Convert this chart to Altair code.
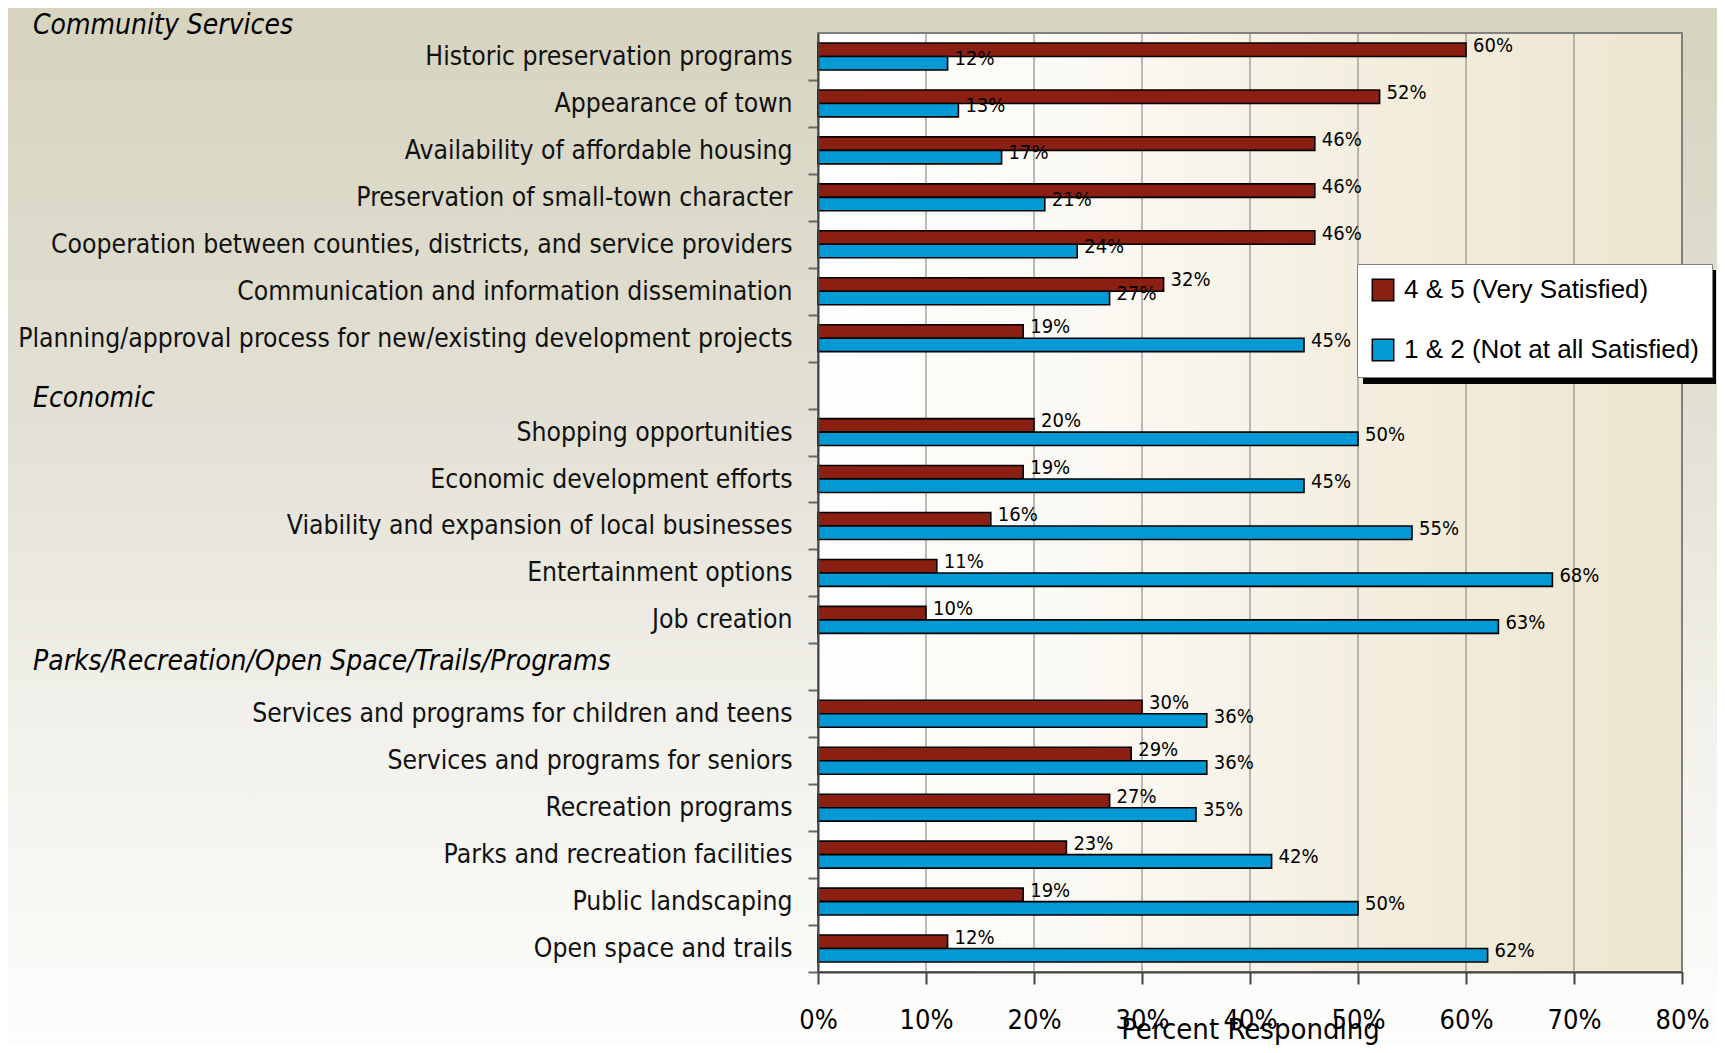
import altair as alt
import pandas as pd

# ---------------- data ----------------
series_names = ["4 & 5 (Very Satisfied)", "1 & 2 (Not at all Satisfied)"]
series_colors = ["#8a1f12", "#0399d4"]

headers = ["Community Services", "Economic", "Parks/Recreation/Open Space/Trails/Programs"]

community_cats = [
    "Historic preservation programs",
    "Appearance of town",
    "Availability of affordable housing",
    "Preservation of small-town character",
    "Cooperation between counties, districts, and service providers",
    "Communication and information dissemination",
    "Planning/approval process for new/existing development projects",
]
community_very = [60, 52, 46, 46, 46, 32, 19]
community_not = [12, 13, 17, 21, 24, 27, 45]

economic_cats = [
    "Shopping opportunities",
    "Economic development efforts",
    "Viability and expansion of local businesses",
    "Entertainment options",
    "Job creation",
]
economic_very = [20, 19, 16, 11, 10]
economic_not = [50, 45, 55, 68, 63]

parks_cats = [
    "Services and programs for children and teens",
    "Services and programs for seniors",
    "Recreation programs",
    "Parks and recreation facilities",
    "Public landscaping",
    "Open space and trails",
]
parks_very = [30, 29, 27, 23, 19, 12]
parks_not = [36, 36, 35, 42, 50, 62]

x_ticks = [0, 10, 20, 30, 40, 50, 60, 70, 80]

blank1 = " "
blank2 = "  "
order = community_cats + [blank1] + economic_cats + [blank2] + parks_cats

rows = []
for cats, very, nots in [(community_cats, community_very, community_not),
                         (economic_cats, economic_very, economic_not),
                         (parks_cats, parks_very, parks_not)]:
    for c, a, b in zip(cats, very, nots):
        rows.append({"cat": c, "series": series_names[0], "value": a, "label": f"{a}%"})
        rows.append({"cat": c, "series": series_names[1], "value": b, "label": f"{b}%"})
df = pd.DataFrame(rows)

NARROW = "DejaVu Sans Condensed"
REGULAR = "Liberation Sans"

W, H = 864, 939
PAD_L, PAD_T = 810, 25
PAD_R, PAD_B = 1709 - W - PAD_L, 1037 - H - PAD_T
STEP = H / len(order)

yscale = alt.Scale(domain=order, paddingInner=0.426, paddingOuter=0.213)
xscale = alt.Scale(domain=[x_ticks[0], x_ticks[-1]], nice=False, zero=True)

# ---------------- backgrounds ----------------
outer_grad = alt.LinearGradient(
    gradient="linear", x1=0, x2=0, y1=0, y2=1,
    stops=[alt.GradientStop(color="#d6d3bf", offset=0),
           alt.GradientStop(color="#e3e1d5", offset=0.4),
           alt.GradientStop(color="#f1f0ea", offset=0.68),
           alt.GradientStop(color="#fdfdfc", offset=1)])
outer_bg = alt.Chart(pd.DataFrame({"z": [0]})).mark_rect(fill=outer_grad).encode(
    x=alt.value(-PAD_L), x2=alt.value(W + PAD_R), y=alt.value(-PAD_T), y2=alt.value(H + PAD_B))

plot_grad = alt.LinearGradient(
    gradient="linear", x1=0, x2=1, y1=0, y2=0,
    stops=[alt.GradientStop(color="#ffffff", offset=0),
           alt.GradientStop(color="#faf8f1", offset=0.35),
           alt.GradientStop(color="#f3eedf", offset=0.62),
           alt.GradientStop(color="#ede5cf", offset=1)])
plot_bg = alt.Chart(pd.DataFrame({"a": [x_ticks[0]], "b": [x_ticks[-1]]})).mark_rect(
    fill=plot_grad, stroke="#808080", strokeWidth=2).encode(
    x=alt.X("a:Q", scale=xscale), x2="b:Q")

grid = alt.Chart(pd.DataFrame({"t": x_ticks[1:-1]})).mark_rule(
    color="#7a7a7a", strokeWidth=1).encode(x=alt.X("t:Q", scale=xscale))

# ---------------- bars ----------------
base = alt.Chart(df)
bars = base.mark_bar(stroke="black", strokeWidth=1.6).encode(
    x=alt.X("value:Q", scale=xscale,
            axis=alt.Axis(values=x_ticks, labelExpr="datum.value + '%'", grid=False,
                          title="Percent Responding", titleFont=NARROW, titleFontSize=29,
                          titleFontWeight="normal", titleColor="black", titleY=66,
                          titleBaseline="alphabetic",
                          labelFont=NARROW, labelFontSize=27, labelColor="black",
                          labelPadding=23, tickSize=12, tickColor="#444444", tickWidth=2,
                          domainColor="#444444", domainWidth=2, zindex=1, labelFlush=False)),
    y=alt.Y("cat:N", scale=yscale,
            axis=alt.Axis(title=None, labelFont=NARROW, labelFontSize=26.3, labelColor="#111111",
                          labelLimit=0, labelPadding=16, tickSize=10, tickColor="#666666",
                          tickWidth=2, tickOffset=STEP / 2, labelOffset=-STEP / 2,
                          domainColor="#444444", domainWidth=2, zindex=1)),
    yOffset=alt.YOffset("series:N", sort=series_names,
                        scale=alt.Scale(domain=series_names, paddingInner=0, paddingOuter=0)),
    color=alt.Color("series:N", scale=alt.Scale(domain=series_names, range=series_colors),
                    legend=alt.Legend(title=None, orient="none", legendX=539, legendY=231,
                                      fillColor="white", strokeColor="#808080", padding=13,
                                      symbolType="square", symbolSize=460,
                                      symbolStrokeColor="black", symbolStrokeWidth=1.5,
                                      symbolOpacity=1, labelFont=REGULAR, labelFontSize=26,
                                      labelColor="black", labelLimit=0, rowPadding=32,
                                      labelOffset=8)),
)

labels = base.mark_text(align="left", baseline="middle", dx=7, dy=-4, font=NARROW,
                        fontSize=20, color="black").encode(
    x=alt.X("value:Q", scale=xscale),
    y=alt.Y("cat:N", scale=yscale),
    yOffset=alt.YOffset("series:N", sort=series_names),
    text="label:N",
)

# ---------------- section headers ----------------
hdr_df = pd.DataFrame({"cat": [blank1, blank2], "text": headers[1:]})
hdr_style = dict(align="left", baseline="alphabetic", font=NARROW, fontSize=28,
                 fontStyle="italic", color="black")
hdr_top = alt.Chart(pd.DataFrame({"text": headers[:1]})).mark_text(**hdr_style).encode(
    x=alt.value(-785), y=alt.value(1), text="text:N")
hdr_econ = alt.Chart(hdr_df.iloc[[0]]).mark_text(dy=22, **hdr_style).encode(
    x=alt.value(-785), y=alt.Y("cat:N", scale=yscale), text="text:N")
hdr_parks = alt.Chart(hdr_df.iloc[[1]]).mark_text(dy=3, **hdr_style).encode(
    x=alt.value(-785), y=alt.Y("cat:N", scale=yscale), text="text:N")

shadow = alt.Chart(pd.DataFrame({"z": [0]})).mark_rect(color="black").encode(
    x=alt.value(545), x2=alt.value(898), y=alt.value(237), y2=alt.value(351))

chart = alt.layer(outer_bg, plot_bg, grid, bars, labels, hdr_top, hdr_econ, hdr_parks, shadow).properties(
    width=W, height=H, background="white",
    padding={"left": PAD_L, "top": PAD_T, "right": PAD_R, "bottom": PAD_B},
    autosize=alt.AutoSizeParams(type="none"),
).configure_view(stroke=None)

chart.save("out.html", embed_options={"renderer": "svg", "actions": False})
